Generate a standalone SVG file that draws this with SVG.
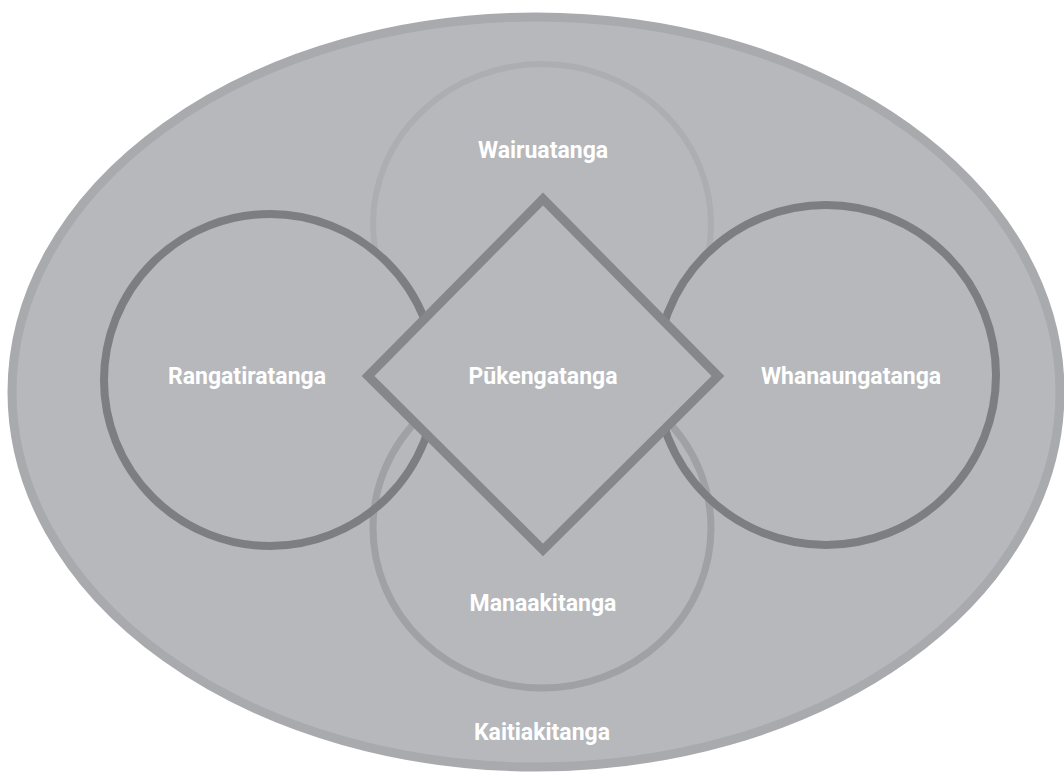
<svg xmlns="http://www.w3.org/2000/svg" width="1064" height="774" viewBox="0 0 1064 774">
<style>
.lbl{font-family:Roboto,"Liberation Sans",sans-serif;font-weight:700;font-size:23px;fill:#ffffff;text-anchor:middle}
.circ{fill:none;stroke:#7c7e81;stroke-width:8}
</style>
<defs>
<mask id="outsideCircles" maskUnits="userSpaceOnUse" x="0" y="0" width="1064" height="774">
<rect width="1064" height="774" fill="#fff"/>
<circle cx="270" cy="380" r="166" fill="#000"/>
<circle cx="826" cy="375" r="170" fill="#000"/>
</mask>
</defs>
<rect width="1064" height="774" fill="#ffffff"/>
<g id="kaitiakitanga">
<ellipse cx="536" cy="392" rx="524" ry="375" fill="#b6b8bb" stroke="#a8aaad" stroke-width="9"/>
<text class="lbl" x="542" y="740">Kaitiakitanga</text>
</g>
<g id="wairuatanga">
<ellipse cx="542" cy="224" rx="169" ry="160" fill="none" stroke="#acaeb1" stroke-width="6" mask="url(#outsideCircles)"/>
<text class="lbl" x="543" y="158">Wairuatanga</text>
</g>
<g id="manaakitanga">
<ellipse cx="542" cy="528" rx="169" ry="160" fill="none" stroke="#9fa1a4" stroke-width="7"/>
<text class="lbl" x="543" y="611">Manaakitanga</text>
</g>
<g id="rangatiratanga">
<circle class="circ" cx="270" cy="380" r="166"/>
<text class="lbl" x="247" y="384">Rangatiratanga</text>
</g>
<g id="whanaungatanga">
<circle class="circ" cx="826" cy="375" r="170"/>
<text class="lbl" x="851" y="384">Whanaungatanga</text>
</g>
<g id="pukengatanga">
<polygon points="543,199 718,376 543,550 368,376" fill="#b6b8bb" stroke="#85878a" stroke-width="9"/>
<text class="lbl" x="543" y="384">Pūkengatanga</text>
</g>
<g id="connectors"></g>
</svg>
